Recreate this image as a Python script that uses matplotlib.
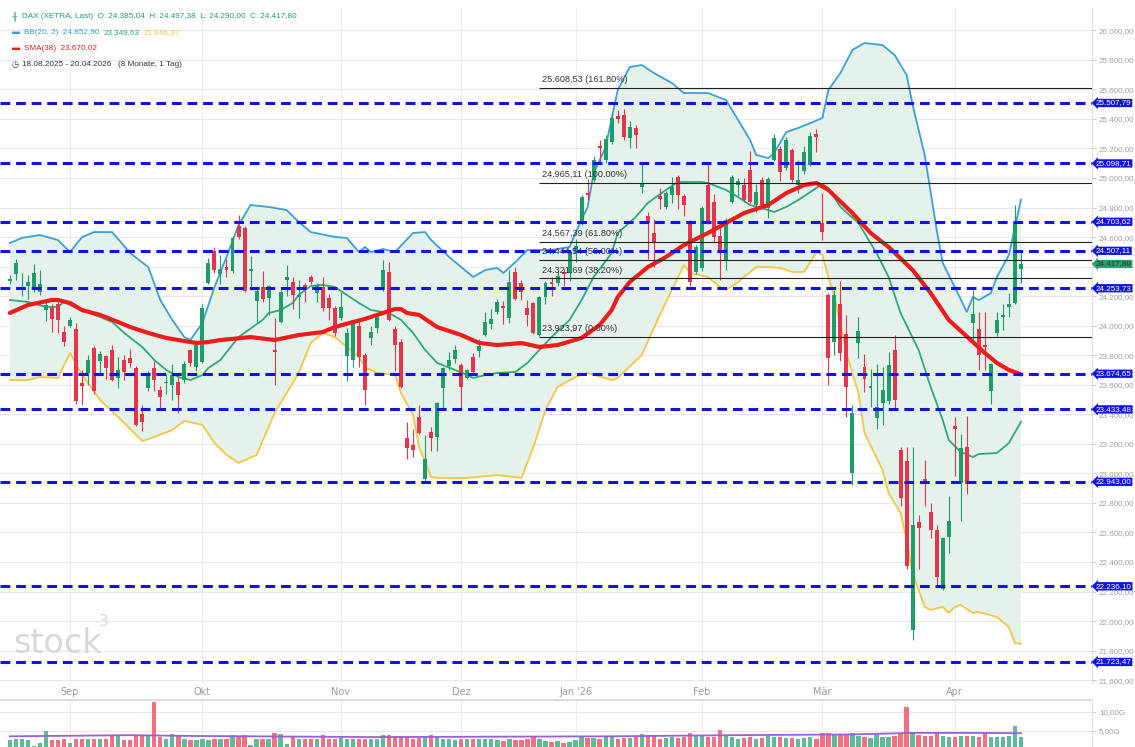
import numpy as np
import matplotlib.pyplot as plt
import matplotlib.transforms as mtransforms

#-- OHLC, one row per trading day (18.08.2025 .. 20.04.2026)
opens = [24305, 24350, 24245, 24270, 24262, 24230, 24105, 24120, 24145, 23955,
         24000, 23975, 23615, 23680, 23850, 23760, 23795, 23835, 23648, 23767,
         23780, 23715, 23400, 23578, 23715, 23565, 23610, 23600, 23620, 23632,
         23835, 23720, 23755, 24290, 24505, 24350, 24400, 24370, 24675, 24660,
         24372, 24167, 24262, 24188, 23835, 24025, 24310, 24296, 24195, 24276,
         24330, 24222, 24262, 24188, 24120, 24052, 23795, 23767, 23998, 23802,
         23916, 23984, 24242, 24364, 23978, 23889, 23240, 23190, 23382, 22960,
         23280, 23247, 23578, 23727, 23774, 23734, 23646, 23788, 23828, 23937,
         24011, 24093, 24135, 24052, 24364, 24289, 24120, 24154, 23937, 24194,
         24296, 24289, 24365, 24357, 24492, 24702, 24900, 24986, 25220, 25122,
         25244, 25420, 25426, 25270, 25338, 24940, 24745, 24627, 24875, 24803,
         24885, 25007, 24878, 24695, 24364, 24391, 24952, 24838, 24607, 24445,
         24838, 24953, 24952, 25054, 24817, 24986, 24797, 25122, 25196, 25068,
         25190, 24952, 25047, 25088, 25295, 24695, 24208, 23889, 24147, 23943,
         23003, 23883, 23720, 23578, 23375, 23477, 23490, 23835, 23158, 23084,
         21940, 22671, 22965, 22739, 22617, 22218, 22570, 23321, 22935, 23179,
         24018, 23978, 23870, 23558, 23950, 24059, 24127, 24154, 24385.04]
highs = [24345, 24450, 24360, 24340, 24420, 24380, 24175, 24150, 24180, 23995,
         24060, 24020, 23700, 23800, 23860, 23830, 23805, 23870, 23790, 23800,
         23845, 23730, 23460, 23690, 23760, 23590, 23670, 23740, 23650, 23760,
         23845, 23900, 24150, 24460, 24530, 24480, 24450, 24605, 24750, 24675,
         24475, 24255, 24370, 24275, 24050, 24240, 24410, 24330, 24310, 24290,
         24345, 24290, 24330, 24215, 24135, 24230, 23985, 24040, 24040, 23815,
         24000, 24075, 24445, 24430, 24000, 23910, 23350, 23300, 23460, 23260,
         23315, 23485, 23720, 23820, 23870, 23745, 23710, 23815, 23910, 24090,
         24110, 24180, 24170, 24380, 24400, 24310, 24175, 24160, 24200, 24300,
         24330, 24380, 24385, 24510, 24590, 24885, 24990, 25150, 25260, 25290,
         25440, 25460, 25470, 25385, 25360, 25100, 24770, 24720, 24930, 24910,
         25010, 25020, 24895, 24715, 24545, 24810, 25100, 24890, 24700, 24730,
         25020, 25000, 25000, 25180, 24960, 25010, 25010, 25300, 25220, 25280,
         25200, 25120, 25220, 25310, 25330, 24900, 24220, 24240, 24300, 24070,
         23460, 24060, 23810, 23710, 23740, 23720, 23820, 23940, 23180, 23180,
         23180, 22720, 23090, 22800, 22650, 22570, 22850, 23380, 23270, 23390,
         24240, 24090, 24090, 23750, 24090, 24145, 24220, 24820, 24497.38]
lows = [24285, 24310, 24200, 24180, 24230, 24210, 24030, 23960, 23950, 23860,
        23990, 23470, 23460, 23600, 23540, 23680, 23640, 23625, 23580, 23630,
        23720, 23320, 23290, 23560, 23560, 23430, 23540, 23500, 23410, 23610,
        23730, 23690, 23745, 24280, 24360, 24280, 24330, 24360, 24590, 24225,
        24240, 24020, 24160, 24070, 23600, 24020, 24200, 24115, 24050, 24160,
        24280, 24160, 24100, 24040, 23930, 24040, 23625, 23720, 23720, 23460,
        23870, 23950, 24235, 24030, 23690, 23575, 23100, 23110, 23265, 22950,
        23150, 23150, 23430, 23700, 23750, 23440, 23640, 23680, 23790, 23930,
        23980, 24080, 24010, 24020, 24175, 24175, 24000, 23945, 23930, 24150,
        24200, 24270, 24270, 24300, 24430, 24680, 24850, 24970, 25110, 25100,
        25230, 25370, 25260, 25200, 25200, 24900, 24450, 24400, 24790, 24790,
        24830, 24790, 24740, 24270, 24350, 24370, 24690, 24567, 24310, 24380,
        24830, 24880, 24840, 24830, 24770, 24790, 24730, 25115, 24980, 25055,
        24970, 24900, 25030, 25080, 25175, 24580, 23600, 23800, 23760, 23380,
        22920, 23780, 23550, 23450, 23300, 23330, 23470, 23440, 22780, 22350,
        21870, 22350, 22780, 22560, 22230, 22210, 22460, 22980, 22680, 22860,
        23900, 23700, 23700, 23470, 23930, 23970, 24060, 24150, 24290.00]
closes = [24315, 24425, 24265, 24295, 24357, 24280, 24140, 24045, 24040, 23890,
          24040, 23490, 23590, 23767, 23555, 23808, 23715, 23635, 23700, 23688,
          23748, 23330, 23350, 23673, 23635, 23518, 23615, 23665, 23532, 23740,
          23748, 23870, 24120, 24425, 24378, 24385, 24378, 24595, 24600, 24235,
          24385, 24235, 24182, 24268, 23825, 24228, 24330, 24208, 24210, 24242,
          24296, 24276, 24122, 24120, 23952, 24127, 23950, 24025, 23790, 23565,
          23957, 24059, 24377, 24040, 23870, 23585, 23175, 23160, 23275, 23100,
          23240, 23477, 23713, 23767, 23835, 23585, 23700, 23686, 23862, 24025,
          24045, 24160, 24127, 24296, 24181, 24228, 24073, 23952, 24194, 24289,
          24282, 24337, 24350, 24499, 24540, 24871, 24885, 25122, 25200, 25264,
          25406, 25400, 25277, 25345, 25291, 24960, 24695, 24560, 24855, 24898,
          24939, 24885, 24817, 24296, 24533, 24797, 24702, 24600, 24492, 24716,
          25007, 24980, 24851, 24838, 24905, 24817, 24993, 25270, 25041, 25257,
          24986, 24986, 25176, 25284, 25277, 24634, 23781, 24208, 23815, 23585,
          23409, 23964, 23639, 23590, 23450, 23565, 23734, 23497, 22833, 22373,
          22651, 22630, 22950, 22617, 22299, 22563, 22678, 23300, 23172, 22929,
          24079, 23802, 23860, 23740, 24039, 24066, 24147, 24695, 24417.80]

#-- daily volume in billions (G)
volume = [2.6, 2.9, 2.8, 2.6, 1.0, 1.9, 5.1, 2.6, 2.6, 2.8,
          1.9, 2.8, 2.8, 2.8, 2.8, 2.8, 2.8, 3.7, 3.6, 2.6,
          2.6, 3.7, 3.6, 3.6, 12.6, 3.3, 2.8, 4.2, 4.0, 2.8,
          2.6, 2.7, 2.8, 2.7, 2.8, 2.8, 2.8, 4.0, 3.4, 4.0,
          1.4, 2.8, 2.8, 2.8, 4.4, 4.2, 1.5, 3.8, 2.8, 2.8,
          2.8, 2.8, 3.9, 2.8, 2.9, 3.1, 3.0, 2.9, 3.0, 2.9,
          2.8, 2.8, 3.9, 3.9, 3.4, 3.6, 3.3, 3.0, 3.1, 3.3,
          4.0, 3.5, 3.0, 2.9, 2.7, 3.0, 2.8, 3.0, 2.9, 2.8,
          2.9, 2.7, 2.5, 3.0, 2.6, 2.6, 2.8, 3.4, 3.0, 2.4,
          2.0, 2.3, 1.9, 2.2, 2.6, 3.6, 3.2, 3.2, 3.0, 3.4,
          3.6, 3.0, 3.2, 3.1, 3.4, 4.1, 3.7, 3.6, 3.0, 3.1,
          3.4, 3.2, 3.4, 4.5, 3.6, 3.6, 3.5, 3.4, 5.2, 3.6,
          3.3, 3.0, 3.2, 3.4, 3.0, 3.2, 3.7, 3.3, 3.4, 3.1,
          3.2, 3.0, 3.1, 3.3, 2.9, 4.4, 4.6, 4.2, 4.0, 3.9,
          4.6, 3.6, 3.4, 3.2, 4.2, 3.5, 3.4, 3.6, 4.2, 11.3,
          4.6, 4.0, 3.6, 3.8, 4.5, 3.6, 3.4, 3.4, 3.6, 3.8,
          3.6, 3.3, 4.4, 3.5, 3.3, 3.4, 3.6, 6.3, 3.38]

#-- indicator lines: (day index, value)
bb_up_idx = [0, 2, 5, 8, 10, 12, 14, 17, 20, 23, 25, 27, 29, 30, 32, 34, 36, 38, 40, 43,
             46, 48, 50, 54, 56, 58, 59, 60, 62, 64, 67, 69, 70, 73, 75, 77, 79, 81, 82, 84,
             86, 90, 93, 94, 96, 97, 99, 101, 103, 105, 107, 110, 112, 116, 119, 121, 123, 124, 126, 127,
             129, 131, 133, 135, 136, 138, 140, 142, 145, 147, 149, 150, 152, 154, 155, 157, 159, 160, 161, 163,
             164, 166, 167, 168]
bb_up = [24560, 24594, 24614, 24580, 24499, 24600, 24634, 24634, 24492, 24397, 24174, 24039, 23923, 23903, 24018, 24262, 24465, 24682, 24817, 24804,
         24783, 24702, 24634, 24601, 24594, 24499, 24533, 24499, 24519, 24499, 24628, 24634, 24580, 24465, 24397, 24330, 24377, 24391, 24357, 24431,
         24513, 24513, 24533, 24628, 24804, 25034, 25210, 25596, 25751, 25765, 25711, 25643, 25575, 25575, 25528, 25393, 25257, 25156, 25135, 25169,
         25311, 25339, 25372, 25406, 25596, 25711, 25867, 25914, 25900, 25833, 25697, 25494, 25156, 24648, 24425, 24262, 24093, 24194, 24174, 24221,
         24330, 24479, 24668, 24852.90]
bb_mid_idx = [0, 3, 6, 8, 9, 10, 12, 15, 17, 19, 22, 24, 26, 28, 30, 32, 33, 35, 38, 42,
              43, 45, 47, 48, 50, 52, 54, 56, 58, 60, 63, 65, 67, 69, 71, 74, 76, 77, 79, 81,
              84, 86, 88, 90, 93, 95, 97, 100, 101, 104, 106, 109, 111, 115, 116, 119, 121, 123, 126, 127,
              129, 131, 133, 135, 136, 138, 141, 144, 146, 148, 151, 153, 155, 156, 158, 160, 161, 164, 166, 168]
bb_mid = [24174, 24161, 24127, 24127, 24161, 24140, 24106, 24059, 24025, 23951, 23856, 23768, 23700, 23653, 23632, 23666, 23714, 23768, 23923, 24039,
          24086, 24106, 24154, 24208, 24269, 24276, 24262, 24208, 24154, 24106, 24086, 24039, 23951, 23836, 23748, 23700, 23666, 23646, 23666, 23680,
          23687, 23748, 23836, 23923, 24039, 24174, 24330, 24492, 24628, 24736, 24831, 24919, 24973, 24973, 24966, 24919, 24871, 24817, 24783, 24770,
          24804, 24851, 24905, 24959, 24932, 24804, 24695, 24492, 24330, 24086, 23835, 23585, 23362, 23226, 23145, 23111, 23131, 23138, 23206, 23349.63]
bb_lo_idx = [0, 3, 5, 8, 10, 12, 15, 18, 22, 24, 27, 29, 32, 34, 36, 38, 41, 44, 48, 50,
             52, 54, 56, 58, 59, 61, 64, 65, 67, 68, 70, 71, 76, 81, 85, 87, 89, 91, 94, 96,
             100, 101, 105, 108, 112, 113, 116, 118, 119, 121, 124, 126, 128, 130, 132, 133, 134, 135, 136, 137,
             139, 141, 142, 145, 146, 148, 149, 150, 152, 153, 155, 156, 157, 158, 160, 161, 164, 166, 167, 168]
bb_lo = [23632, 23632, 23653, 23646, 23815, 23666, 23497, 23382, 23219, 23247, 23294, 23355, 23328, 23206, 23125, 23071, 23125, 23409, 23680, 23883,
         23951, 23923, 23856, 23788, 23720, 23680, 23666, 23544, 23396, 23179, 22976, 22969, 22969, 22989, 22969, 23179, 23429, 23585, 23653, 23680,
         23632, 23646, 23802, 24073, 24411, 24357, 24330, 24262, 24242, 24296, 24397, 24397, 24391, 24364, 24364, 24431, 24499, 24479, 24330, 24194,
         23815, 23544, 23274, 23023, 22867, 22732, 22549, 22326, 22096, 22075, 22096, 22055, 22096, 22109, 22055, 22062, 22028, 21960, 21852, 21846.37]
sma_idx = [0, 3, 7, 8, 10, 12, 15, 18, 20, 23, 26, 28, 31, 33, 35, 40, 44, 48, 52, 54,
           57, 59, 62, 64, 65, 66, 68, 71, 75, 78, 81, 85, 88, 91, 95, 98, 100, 101, 103, 106,
           109, 112, 116, 119, 122, 126, 129, 132, 134, 136, 140, 143, 146, 150, 153, 156, 160, 162, 164, 166,
           168]
sma = [24086, 24140, 24174, 24174, 24154, 24106, 24073, 24025, 23991, 23951, 23917, 23903, 23883, 23890, 23903, 23923, 23903, 23937, 23957, 23991,
       24025, 24046, 24086, 24113, 24113, 24086, 24073, 23991, 23937, 23883, 23869, 23883, 23856, 23869, 23917, 24005, 24106, 24194, 24296, 24397,
       24465, 24546, 24628, 24695, 24763, 24817, 24898, 24953, 24966, 24919, 24763, 24628, 24533, 24377, 24221, 24039, 23890, 23815, 23748, 23700,
       23670.02]
vol_ma_idx = [0, 20, 30, 40, 60, 80, 100, 120, 140, 150, 160, 168]
vol_ma = [3.6, 3.9, 3.7, 3.6, 3.4, 3.5, 3.6, 3.9, 4.1, 4.5, 4.5, 4.42]

#-- horizontal levels and fibonacci retracement
levels = [25507.79, 25098.71, 24703.62, 24507.11, 24253.73, 23674.65, 23433.48, 22943.00, 22236.10, 21723.47]
fib_levels = [25608.53, 24965.11, 24567.39, 24444.54, 24321.69, 23923.97]
fib_pct = ['161.80%', '100.00%', '61.80%', '50.00%', '38.20%', '0.00%']
fib_start = 88

month_idx = [10, 32, 55, 75, 94, 115, 135, 157]
month_lbl = ['Sep', 'Okt', 'Nov', 'Dez', "Jan '26", 'Feb', 'Mär', 'Apr']
price_ticks = list(range(21600, 26001, 200))


def de(v):
    s = f"{v:,.2f}"
    return s.replace(',', 'X').replace('.', ',').replace('X', '.')


W, H = 1135, 747
GREEN = '#1f9d68'
RED = '#e5344b'
BLUE_LVL = '#1212e6'
FAM = ['Liberation Sans', 'DejaVu Sans']

fig = plt.figure(figsize=(W / 100, H / 100), dpi=100)
ax = fig.add_axes([0, 1 - 683 / H, 1092 / W, 675 / H])
ax.set_xlim(-1.63, 179.8)
ax.set_ylim(21581, 26151)

# grid
for yv in price_ticks:
    ax.axhline(yv, color='#e8e8e8', lw=0.8, zorder=0)
for xv in month_idx:
    ax.axvline(xv, color='#ececec', lw=0.8, zorder=0)

# bollinger cloud
ax.fill(np.r_[bb_up_idx, bb_lo_idx[::-1]], np.r_[bb_up, bb_lo[::-1]],
        color='#e5f2ec', lw=0, zorder=1)
ax.plot(bb_up_idx, bb_up, color='#3d9fd6', lw=1.3, zorder=3)
ax.plot(bb_lo_idx, bb_lo, color='#f2c744', lw=1.3, zorder=3)
ax.plot(bb_mid_idx, bb_mid, color='#2eaa78', lw=1.3, zorder=3)

# candles
x = np.arange(len(closes))
o = np.array(opens); c = np.array(closes)
up = c >= o
cols = np.where(up, GREEN, RED)
ax.vlines(x, lows, highs, colors=cols, lw=0.8, zorder=4)
body = np.where(np.abs(c - o) < 12, 12 * np.sign(c - o + 0.01), c - o)
ax.bar(x, body, bottom=o, width=0.66, color=cols, lw=0, zorder=5)

ax.plot(sma_idx, sma, color='#ee1c1c', lw=3.0, zorder=6, solid_capstyle='round')

# fibonacci
for lv, pc in zip(fib_levels, fib_pct):
    ax.hlines(lv, fib_start, 179.8, color='#222222', lw=0.8, zorder=6)
    ax.text(fib_start + 0.4, lv + 25, f"{de(lv)} ({pc})", fontsize=6.6, family=FAM,
            color='#333333', va='bottom', ha='left', zorder=7)

# dashed levels with price tags
trans = mtransforms.blended_transform_factory(ax.transAxes, ax.transData)
tag_x = 1.0 + 4 / 1092
for lv in levels:
    ax.axhline(lv, color=BLUE_LVL, lw=2.2, ls=(0, (3.2, 1.9)), zorder=7)
    ax.text(tag_x, lv, de(lv), transform=trans, fontsize=5.8, family=FAM, color='white',
            ha='left', va='center', zorder=10, clip_on=False,
            bbox=dict(boxstyle='larrow,pad=0.08', fc=BLUE_LVL, ec='none'))
ax.text(tag_x, closes[-1], de(closes[-1]), transform=trans, fontsize=5.8, family=FAM,
        color='#0d3b26', ha='left', va='center', zorder=10, clip_on=False,
        bbox=dict(boxstyle='larrow,pad=0.08', fc='#2e9e6e', ec='none'))

# axes styling; the tick label sitting right under the last-price tag is covered in the original
for s in ['top', 'left', 'bottom']:
    ax.spines[s].set_visible(False)
ax.spines['right'].set_color('#e0e0e0')
ax.yaxis.tick_right()
ax.set_yticks(price_ticks)
ax.set_yticklabels(['' if abs(v - closes[-1]) < 25 else de(v) for v in price_ticks],
                   fontsize=5.8, color='#a0a0a0', family=FAM)
ax.tick_params(axis='y', length=3, color='#cccccc', pad=2)
ax.set_xticks(month_idx)
ax.set_xticklabels(month_lbl, fontsize=7, color='#9a9a9a')
ax.tick_params(axis='x', length=0, pad=3)

# watermark
ax.text(0.5, 21850, 'stock', fontsize=24, color='#d8d8d8', ha='left', va='center', zorder=2)
ax.text(14.8, 21995, '3', fontsize=11, color='#d8d8d8', ha='left', va='center', zorder=2)


# legend rows: pieces chained left to right
def row(parts, y, size=5.9):
    prev = None
    for txt, col, gap in parts:
        kw = dict(fontsize=size, color=col, va='center', ha='left', family=FAM,
                  annotation_clip=False)
        if prev is None:
            prev = ax.annotate(txt, xy=(12, H - y), xycoords='figure pixels', **kw)
        else:
            prev = ax.annotate(txt, xy=(1, 0.5), xycoords=prev, xytext=(gap, 0),
                               textcoords='offset points', **kw)


row([('╫', GREEN, 0),
     ('DAX (XETRA, Last)  O: 24.385,04  H: 24.497,38  L: 24.290,00  C: 24.417,80', '#2a9a6c', 3)], 16)
row([('▬', '#3d9fd6', 0), ('BB(20, 2)  24.852,90', '#3d9fd6', 3),
     ('23.349,63', '#2eaa78', 3), ('21.846,37', '#f2c744', 3)], 33)
row([('▬', '#ee1c1c', 0), ('SMA(38)  23.670,02', '#dd2222', 3)], 49)
row([('◷', '#333333', 0), ('18.08.2025 - 20.04.2026   (8 Monate, 1 Tag)', '#333333', 2)], 65)

# volume panel
vax = fig.add_axes([0, 0, 1092 / W, 47 / H])
vax.set_xlim(ax.get_xlim())
vax.set_ylim(0.79, 13.16)
for yv in [5, 10]:
    vax.axhline(yv, color='#e8e8e8', lw=0.8, zorder=0)
for xv in month_idx:
    vax.axvline(xv, color='#ececec', lw=0.8, zorder=0)
vcols = np.where(up, '#5fbb97', '#f2707f')
vax.bar(x, volume, width=0.72, color=vcols, lw=0, zorder=2)
vax.plot(vol_ma_idx, vol_ma, color='#9b5fd6', lw=1.3, zorder=3)
for s in ['left', 'bottom']:
    vax.spines[s].set_visible(False)
vax.spines['top'].set_color('#dddddd')
vax.spines['top'].set_linewidth(1.5)
vax.spines['right'].set_color('#e0e0e0')
vax.yaxis.tick_right()
vax.set_yticks([5, 10])
vax.set_yticklabels(['5,00G', '10,00G'], fontsize=5.8, color='#a0a0a0', family=FAM)
vax.tick_params(axis='y', length=3, color='#cccccc', pad=2)
vax.set_xticks([])
row([('ıl', '#222222', 0), ('Volumen(28)  3,38G', '#333333', 2), ('4,42G', '#9b5fd6', 3)], 713)

fig.savefig('out.png', dpi=100)
